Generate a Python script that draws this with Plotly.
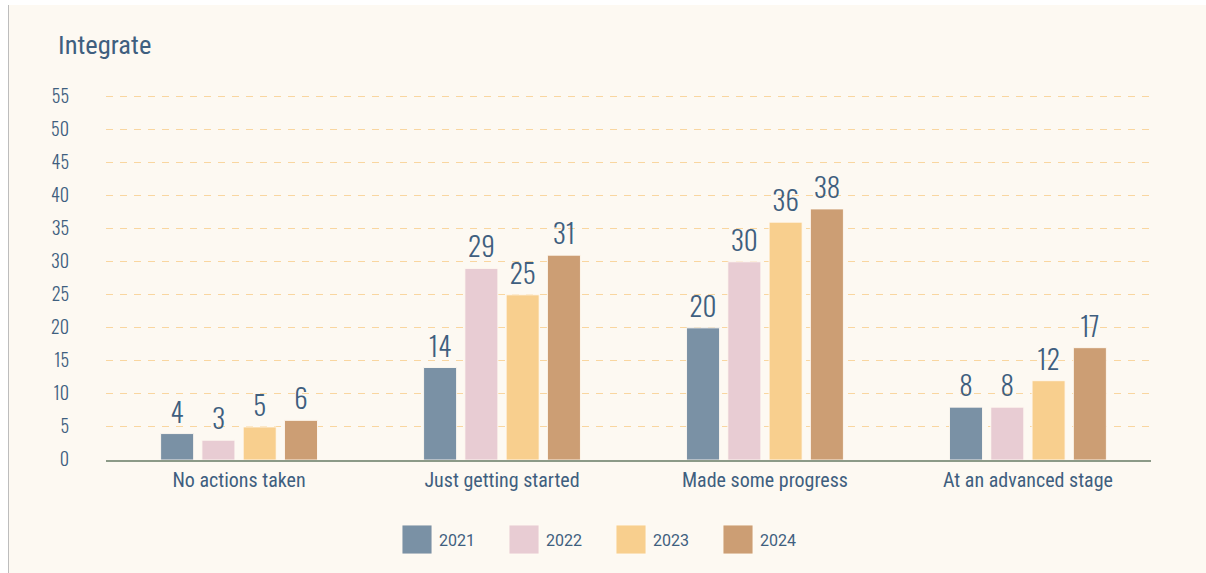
import plotly.graph_objects as go

categories = ["No actions taken", "Just getting started", "Made some progress", "At an advanced stage"]
years = ["2021", "2022", "2023", "2024"]
values_2021 = [4, 14, 20, 8]
values_2022 = [3, 29, 30, 8]
values_2023 = [5, 25, 36, 12]
values_2024 = [6, 31, 38, 17]
series = [values_2021, values_2022, values_2023, values_2024]
colors = ["#7A91A5", "#E8CCD3", "#F8CF8E", "#CC9E74"]
y_ticks = [0, 5, 10, 15, 20, 25, 30, 35, 40, 45, 50, 55]

TEXT = "#3F5F7F"
NARROW = "Oswald, Roboto Condensed, sans-serif"
COND = "Roboto Condensed, Oswald, sans-serif"

W, H = 1206, 573
L, R, T, B = 106, 55, 90, 113
PW, PH = W - L - R, H - T - B


def px_x(px):
    return (px - L) / PW


def px_y(py):
    return (H - B - py) / PH


fig = go.Figure()
for name, vals, col in zip(years, series, colors):
    fig.add_trace(go.Bar(
        x=categories, y=vals, name=name,
        marker=dict(color=col, line=dict(color="rgba(255,250,242,0.9)", width=1)),
        text=vals, textposition="outside", cliponaxis=False,
        textfont=dict(family=NARROW, size=27, color=TEXT, weight=300),
        showlegend=False,
    ))

shapes = [
    dict(type="rect", xref="paper", yref="paper", layer="below",
         x0=px_x(9), x1=px_x(W + 5), y0=px_y(5), y1=px_y(H + 5),
         fillcolor="#FDF9F2", line=dict(width=0)),
    dict(type="line", xref="paper", yref="paper", layer="below",
         x0=px_x(8.5), x1=px_x(8.5), y0=px_y(5), y1=px_y(H + 5),
         line=dict(color="#BDBDBD", width=1)),
]
annotations = []
for i, (name, col) in enumerate(zip(years, colors)):
    x0 = 402 + 107 * i
    shapes.append(dict(type="rect", xref="paper", yref="paper",
                       x0=px_x(x0), x1=px_x(x0 + 30), y0=px_y(525), y1=px_y(554),
                       fillcolor=col, line=dict(color="rgba(255,250,242,0.9)", width=1)))
    annotations.append(dict(xref="paper", yref="paper", x=px_x(x0 + 35), y=px_y(540),
                            xanchor="left", yanchor="middle", showarrow=False, text=name,
                            font=dict(family="Roboto, sans-serif", size=16, color=TEXT)))

fig.update_layout(
    width=W, height=H,
    margin=dict(l=L, r=R, t=T, b=B),
    paper_bgcolor="white",
    plot_bgcolor="rgba(0,0,0,0)",
    barmode="group", bargap=0.372, bargroupgap=0.2,
    title=dict(text="Integrate", xref="container", yref="container",
               x=58 / W, xanchor="left", y=1 - 45 / H, yanchor="middle",
               font=dict(family=COND, size=26.5, color=TEXT)),
    xaxis=dict(range=[-0.506, 3.468], showline=True, linecolor="#8C9A88", linewidth=2,
               showgrid=False, ticks="", ticklabelstandoff=1,
               tickfont=dict(family=COND, size=20, color=TEXT)),
    yaxis=dict(range=[0, 56], tickvals=y_ticks, showline=False, zeroline=False,
               showgrid=True, gridcolor="#F9D6A0", gridwidth=1, griddash="7px,7px",
               ticks="", ticklabelstandoff=36,
               tickfont=dict(family=NARROW, size=18, color=TEXT, weight=300)),
    shapes=shapes,
    annotations=annotations,
    font=dict(family=NARROW, color=TEXT),
)

fig.write_html("out.html", config={"displayModeBar": False},
               post_script="document.body.style.margin='0';")
